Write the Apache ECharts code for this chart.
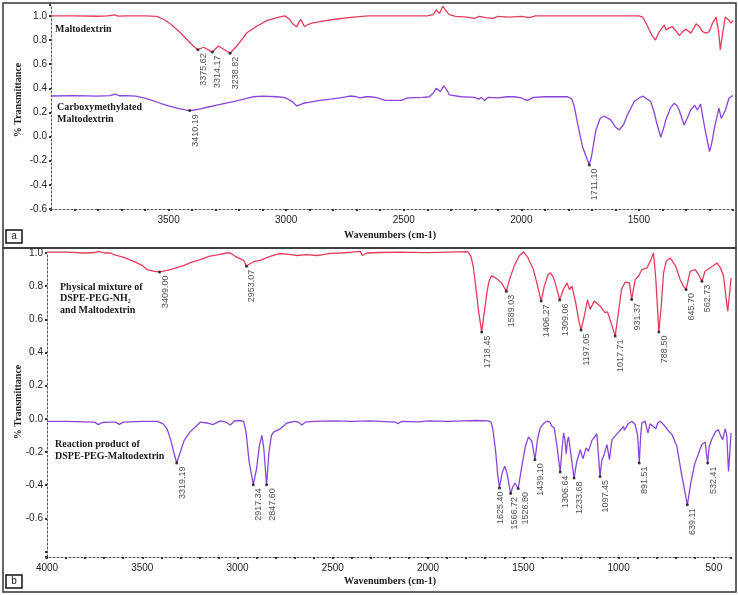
<!DOCTYPE html>
<html><head><meta charset="utf-8">
<script src="https://cdn.jsdelivr.net/npm/echarts@6/dist/echarts.min.js"></script>
<style>html,body{margin:0;padding:0;background:#fff}#c{width:738px;height:595px}</style>
</head><body><div id="c"></div>
<script>
// ---- Panel a: Maltodextrin (red) ----
const maltodextrin = [[4000,1.0],[3900,1.0],[3800,0.997],[3760,1.0],[3730,1.008],[3715,0.998],[3680,1.0],[3600,1.0],[3550,0.995],[3520,0.97],[3490,0.93],[3450,0.86],[3420,0.80],[3395,0.75],[3375.62,0.72],[3351,0.74],[3314.17,0.70],[3288,0.75],[3238.82,0.69],[3210,0.75],[3167,0.86],[3120,0.92],[3082,0.96],[3040,0.985],[3005,1.0],[2985,0.97],[2970,0.93],[2955,0.91],[2945,0.95],[2937,0.97],[2930,0.94],[2922,0.91],[2905,0.93],[2891,0.94],[2850,0.955],[2800,0.97],[2716,0.99],[2650,1.0],[2500,1.0],[2400,1.0],[2375,1.01],[2362,1.05],[2348,1.02],[2334,1.08],[2320,1.04],[2306,1.01],[2280,0.995],[2230,0.99],[2200,0.98],[2180,0.995],[2150,0.985],[2120,0.98],[2100,0.995],[2050,0.99],[2000,0.995],[1966,0.985],[1940,1.0],[1800,1.0],[1600,1.0],[1500,1.0],[1484,0.99],[1465,0.92],[1445,0.84],[1430,0.80],[1413,0.87],[1392,0.925],[1385,0.884],[1371,0.90],[1357,0.91],[1335,0.857],[1328,0.837],[1314,0.87],[1300,0.89],[1279,0.857],[1257,0.934],[1243,0.91],[1229,0.87],[1215,0.857],[1201,0.87],[1187,0.94],[1172,0.99],[1161,0.87],[1154,0.72],[1144,0.857],[1133,0.99],[1119,0.967],[1109,0.94],[1100,0.96]];
const maltodextrinPeaks = [[3375.62,0.72],[3314.17,0.70],[3238.82,0.69]];

// ---- Panel a: Carboxymethylated maltodextrin (purple) ----
const carboxymethylated = [[4000,0.336],[3900,0.34],[3800,0.335],[3750,0.34],[3726,0.352],[3710,0.338],[3680,0.34],[3640,0.335],[3606,0.32],[3570,0.30],[3535,0.276],[3500,0.255],[3464,0.235],[3430,0.222],[3410.19,0.215],[3390,0.22],[3365,0.23],[3330,0.245],[3295,0.26],[3260,0.275],[3224,0.29],[3180,0.31],[3139,0.33],[3100,0.335],[3040,0.33],[3010,0.325],[2997,0.315],[2975,0.29],[2955,0.254],[2940,0.265],[2927,0.276],[2900,0.285],[2856,0.30],[2810,0.31],[2771,0.32],[2729,0.336],[2700,0.33],[2686,0.32],[2660,0.33],[2640,0.33],[2610,0.32],[2580,0.30],[2560,0.30],[2511,0.30],[2483,0.32],[2420,0.325],[2391,0.33],[2375,0.36],[2362,0.40],[2344,0.372],[2330,0.42],[2315,0.38],[2306,0.345],[2256,0.33],[2200,0.325],[2180,0.31],[2170,0.325],[2157,0.30],[2140,0.325],[2100,0.32],[2060,0.33],[2030,0.33],[2000,0.32],[1985,0.305],[1973,0.30],[1950,0.325],[1900,0.33],[1803,0.33],[1785,0.31],[1775,0.25],[1761,0.11],[1740,-0.084],[1711.10,-0.235],[1702,-0.167],[1683,0.055],[1665,0.15],[1648,0.17],[1620,0.138],[1600,0.08],[1584,0.055],[1565,0.10],[1549,0.18],[1520,0.29],[1495,0.325],[1481,0.335],[1465,0.31],[1450,0.29],[1435,0.20],[1424,0.11],[1407,-0.006],[1395,0.07],[1386,0.138],[1365,0.24],[1350,0.276],[1340,0.26],[1329,0.22],[1308,0.096],[1295,0.15],[1280,0.22],[1263,0.26],[1252,0.22],[1238,0.27],[1221,0.08],[1200,-0.125],[1190,-0.05],[1178,0.08],[1160,0.235],[1150,0.15],[1132,0.22],[1117,0.32],[1110,0.33],[1100,0.34]];
const carboxymethylatedPeaks = [[3410.19,0.215],[1711.10,-0.235]];

// ---- Panel b: Physical mixture (red) ----
const physicalMixture = [[4000,1.005],[3900,1.005],[3800,1.0],[3750,1.003],[3729,1.01],[3700,1.0],[3668,1.0],[3641,0.987],[3600,0.975],[3545,0.95],[3500,0.925],[3475,0.90],[3440,0.89],[3409.00,0.886],[3370,0.895],[3336,0.906],[3280,0.925],[3240,0.945],[3196,0.96],[3150,0.98],[3100,0.99],[3060,1.0],[3038,1.0],[3012,0.98],[2985,0.965],[2968,0.956],[2953.07,0.92],[2935,0.935],[2910,0.95],[2881,0.955],[2840,0.975],[2800,0.99],[2776,0.997],[2720,0.99],[2688,0.985],[2640,0.99],[2583,0.985],[2550,0.99],[2513,0.998],[2450,1.0],[2400,1.005],[2356,1.01],[2345,0.985],[2339,0.98],[2321,1.0],[2250,1.003],[2150,1.005],[2000,1.002],[1900,1.005],[1800,1.008],[1789,1.005],[1775,0.98],[1763,0.92],[1750,0.80],[1735,0.65],[1718.45,0.523],[1705,0.64],[1690,0.77],[1680,0.83],[1667,0.862],[1645,0.85],[1615,0.82],[1589.03,0.77],[1570,0.85],[1545,0.93],[1520,0.985],[1499,1.007],[1475,0.97],[1447,0.90],[1425,0.80],[1406.27,0.71],[1390,0.80],[1370,0.87],[1359,0.88],[1345,0.86],[1333,0.82],[1309.06,0.717],[1290,0.78],[1271,0.82],[1258,0.78],[1245,0.80],[1225,0.70],[1210,0.60],[1197.05,0.535],[1180,0.62],[1163,0.717],[1149,0.66],[1128,0.71],[1097,0.68],[1071,0.64],[1058,0.645],[1040,0.58],[1017.71,0.50],[1000,0.65],[985,0.78],[965,0.825],[943,0.82],[931.37,0.72],[913,0.84],[895,0.86],[878,0.90],[851,0.91],[830,0.96],[817,1.0],[805,0.85],[788.50,0.523],[775,0.70],[764,0.88],[750,0.95],[729,0.97],[700,0.92],[677,0.84],[660,0.80],[645.70,0.78],[630,0.86],[624,0.89],[598,0.90],[580,0.87],[562.73,0.83],[546,0.89],[520,0.91],[484,0.94],[465,0.91],[449,0.86],[435,0.72],[427,0.65],[418,0.75],[410,0.85]];
const physicalMixturePeaks = [[3409.00,0.886],[2953.07,0.92],[1718.45,0.523],[1589.03,0.77],[1406.27,0.71],[1309.06,0.717],[1197.05,0.535],[1017.71,0.50],[931.37,0.72],[788.50,0.523],[645.70,0.78],[562.73,0.83]];

// ---- Panel b: Reaction product (purple) ----
const reactionProduct = [[4000,-0.015],[3900,-0.015],[3800,-0.018],[3750,-0.02],[3730,-0.035],[3710,-0.022],[3680,-0.02],[3640,-0.02],[3620,-0.033],[3600,-0.02],[3500,-0.015],[3420,-0.015],[3390,-0.03],[3370,-0.06],[3350,-0.13],[3335,-0.2],[3319.19,-0.266],[3300,-0.2],[3280,-0.13],[3250,-0.08],[3231,-0.06],[3196,-0.02],[3160,-0.025],[3130,-0.035],[3090,-0.012],[3060,-0.02],[3038,-0.037],[3015,-0.012],[2990,-0.01],[2968,-0.015],[2955,-0.08],[2940,-0.25],[2917.34,-0.397],[2900,-0.3],[2885,-0.16],[2872,-0.10],[2862,-0.18],[2847.60,-0.397],[2835,-0.2],[2822,-0.1],[2811,-0.08],[2776,-0.06],[2740,-0.025],[2700,-0.015],[2680,-0.02],[2662,-0.037],[2645,-0.02],[2600,-0.015],[2500,-0.012],[2400,-0.015],[2300,-0.012],[2200,-0.018],[2170,-0.02],[2157,-0.03],[2140,-0.015],[2050,-0.018],[2000,-0.012],[1900,-0.015],[1807,-0.012],[1750,-0.01],[1684,-0.012],[1670,-0.02],[1660,-0.06],[1645,-0.2],[1635,-0.33],[1625.40,-0.417],[1610,-0.32],[1597,-0.286],[1585,-0.33],[1566.72,-0.45],[1555,-0.41],[1544,-0.387],[1526.80,-0.42],[1510,-0.3],[1490,-0.17],[1473,-0.109],[1455,-0.135],[1439.10,-0.246],[1425,-0.12],[1411,-0.054],[1395,-0.03],[1376,-0.014],[1360,-0.02],[1350,-0.045],[1338,-0.054],[1325,-0.15],[1306.64,-0.32],[1298,-0.2],[1289,-0.085],[1282,-0.12],[1275,-0.21],[1268,-0.13],[1263,-0.109],[1252,-0.2],[1233.68,-0.357],[1220,-0.26],[1201,-0.186],[1187,-0.24],[1170,-0.175],[1158,-0.196],[1140,-0.13],[1114,-0.09],[1106,-0.085],[1097.45,-0.347],[1088,-0.25],[1076,-0.216],[1061,-0.155],[1048,-0.246],[1035,-0.125],[1000,-0.08],[974,-0.045],[969,-0.069],[950,-0.03],[930,-0.014],[913,-0.034],[900,-0.1],[891.51,-0.266],[884,-0.1],[878,-0.024],[861,-0.014],[846,-0.085],[835,-0.03],[825,-0.024],[804,-0.06],[795,-0.025],[782,-0.014],[760,-0.04],[740,-0.07],[720,-0.095],[694,-0.165],[670,-0.33],[639.11,-0.518],[620,-0.38],[600,-0.27],[563,-0.155],[545,-0.14],[540,-0.2],[532.41,-0.266],[525,-0.17],[510,-0.12],[490,-0.075],[476,-0.065],[465,-0.1],[453,-0.125],[441,-0.06],[432,-0.1],[423,-0.317],[416,-0.2],[410,-0.085]];
const reactionProductPeaks = [[3319.19,-0.266],[2917.34,-0.397],[2847.60,-0.397],[1625.40,-0.417],[1566.72,-0.45],[1526.80,-0.42],[1439.10,-0.246],[1306.64,-0.32],[1233.68,-0.357],[1097.45,-0.347],[891.51,-0.266],[639.11,-0.518],[532.41,-0.266]];

// axis ranges / ticks
const xRangeA = [1100, 4000];
const xRangeB = [410, 4000];
const yRangeA = [-0.6, 1.09];
const yRangeB = [-0.833, 1.0];
const xLabelsA = [1500, 2000, 2500, 3000, 3500];
const xLabelsB = [500, 1000, 1500, 2000, 2500, 3000, 3500, 4000];
const yLabels = [-0.6, -0.4, -0.2, 0.0, 0.2, 0.4, 0.6, 0.8, 1.0];

// styling
const RED = '#e63c5c', PURPLE = '#8a45d8';
const SANS = '"Liberation Sans", Arial, sans-serif';
const SERIF = '"Liberation Serif", "Times New Roman", serif';
const LABEL_SHIFT_DEFAULT = 5.5;               // px to the right of the dot
const LABEL_SHIFT = {'1625.40': 1.5, '1566.72': 3.5, '1526.80': 7.5}; // crowded labels

function xAxisCfg(gi, range, labels) {
  return {
    type: 'value', gridIndex: gi, inverse: true, min: range[0], max: range[1],
    minInterval: 100, maxInterval: 100,
    axisLine: {show: true, onZero: false, lineStyle: {color: '#555', width: 1, type: [2, 2]}},
    axisTick: {show: true, length: 2, lineStyle: {color: '#333', width: 2}},
    axisLabel: {interval: 0, margin: 6, color: '#222', fontSize: 10, fontFamily: SANS,
      formatter: v => labels.some(l => Math.abs(l - v) < 1e-6) ? String(Math.round(v)) : ''},
    splitLine: {show: false}
  };
}
function yAxisCfg(gi, range) {
  return {
    type: 'value', gridIndex: gi, min: range[0], max: range[1],
    minInterval: 0.2, maxInterval: 0.2,
    axisLine: {show: true, onZero: false, lineStyle: {color: '#555', width: 1, type: [2, 2]}},
    axisTick: {show: true, length: 2, lineStyle: {color: '#333', width: 2}},
    axisLabel: {margin: 4, color: '#222', fontSize: 10, fontFamily: SANS,
      formatter: v => yLabels.some(l => Math.abs(l - v) < 1e-6) ? v.toFixed(1).replace('-0.0', '0.0') : ''},
    splitLine: {show: false}
  };
}
function lineSeries(data, color, idx) {
  return {type: 'line', data, xAxisIndex: idx, yAxisIndex: idx, showSymbol: false, symbol: 'none',
    clip: false, lineStyle: {color, width: 1.3}, z: 2, silent: true};
}
function peakSeries(data, idx) {
  return {type: 'scatter', data, xAxisIndex: idx, yAxisIndex: idx, symbolSize: 3, clip: false,
    itemStyle: {color: '#111'}, z: 5, silent: true,
    label: {show: true, position: 'bottom', distance: 2, rotate: 90, align: 'right', verticalAlign: 'middle',
      fontSize: 9, fontFamily: SANS, color: '#222', formatter: p => p.value[0].toFixed(2)},
    labelLayout: p => {
      const key = data[p.dataIndex][0].toFixed(2);
      const s = LABEL_SHIFT[key] != null ? LABEL_SHIFT[key] : LABEL_SHIFT_DEFAULT;
      return {dx: 0, dy: s};
    }};
}
function txt(x, y, text) {
  return {type: 'text', x, y, z: 10, style: {text, font: 'bold 10px ' + SERIF, fill: '#1a1a1a',
    align: 'left', textAlign: 'left', verticalAlign: 'middle', textVerticalAlign: 'middle', lineHeight: 11.5}};
}
function ctxt(x, y, text, font, rot) {
  return {type: 'text', x, y, rotation: rot || 0, z: 10, style: {text, font, fill: '#1a1a1a',
    align: 'center', textAlign: 'center', verticalAlign: 'middle', textVerticalAlign: 'middle'}};
}

const chart = echarts.init(document.getElementById('c'), null, {renderer: 'canvas'});
chart.setOption({
  animation: false,
  backgroundColor: '#fff',
  grid: [
    {left: 51, right: 5, top: 5, bottom: 386, outerBoundsMode: 'none', containLabel: false},
    {left: 47, right: 7, top: 253, bottom: 38, outerBoundsMode: 'none', containLabel: false}
  ],
  xAxis: [xAxisCfg(0, xRangeA, xLabelsA), xAxisCfg(1, xRangeB, xLabelsB)],
  yAxis: [yAxisCfg(0, yRangeA), yAxisCfg(1, yRangeB)],
  series: [
    lineSeries(maltodextrin, RED, 0),
    lineSeries(carboxymethylated, PURPLE, 0),
    lineSeries(physicalMixture, RED, 1),
    lineSeries(reactionProduct, PURPLE, 1),
    peakSeries(maltodextrinPeaks, 0),
    peakSeries(carboxymethylatedPeaks, 0),
    peakSeries(physicalMixturePeaks, 1),
    peakSeries(reactionProductPeaks, 1)
  ],
  graphic: [
    {type: 'rect', shape: {x: 3, y: 3, width: 733, height: 245}, style: {fill: 'none', stroke: '#333', lineWidth: 1.5}, z: 0},
    {type: 'rect', shape: {x: 3, y: 248, width: 733, height: 344}, style: {fill: 'none', stroke: '#333', lineWidth: 1.5}, z: 0},
    {type: 'rect', shape: {x: 6, y: 230, width: 16, height: 13}, style: {fill: '#fff', stroke: '#111', lineWidth: 1.5}, z: 9},
    {type: 'rect', shape: {x: 6, y: 575, width: 16, height: 13}, style: {fill: '#fff', stroke: '#111', lineWidth: 1.5}, z: 9},
    ctxt(14, 236.5, 'a', '10px ' + SANS),
    ctxt(14, 581.5, 'b', '10px ' + SANS),
    txt(55, 29, 'Maltodextrin'),
    txt(57, 113.5, 'Carboxymethylated\nMaltodextrin'),
    txt(60, 298.5, 'Physical mixture of\nDSPE-PEG-NH\u2082\nand Maltodextrin'),
    txt(55, 450.5, 'Reaction product of\nDSPE-PEG-Maltodextrin'),
    ctxt(18, 100, '% Transmittance', 'bold 10px ' + SERIF, Math.PI / 2),
    ctxt(18, 402, '% Transmittance', 'bold 10px ' + SERIF, Math.PI / 2),
    ctxt(390, 235, 'Wavenumbers (cm-1)', 'bold 10px ' + SERIF),
    ctxt(390, 581, 'Wavenumbers (cm-1)', 'bold 10px ' + SERIF)
  ]
});
</script>
</body></html>
